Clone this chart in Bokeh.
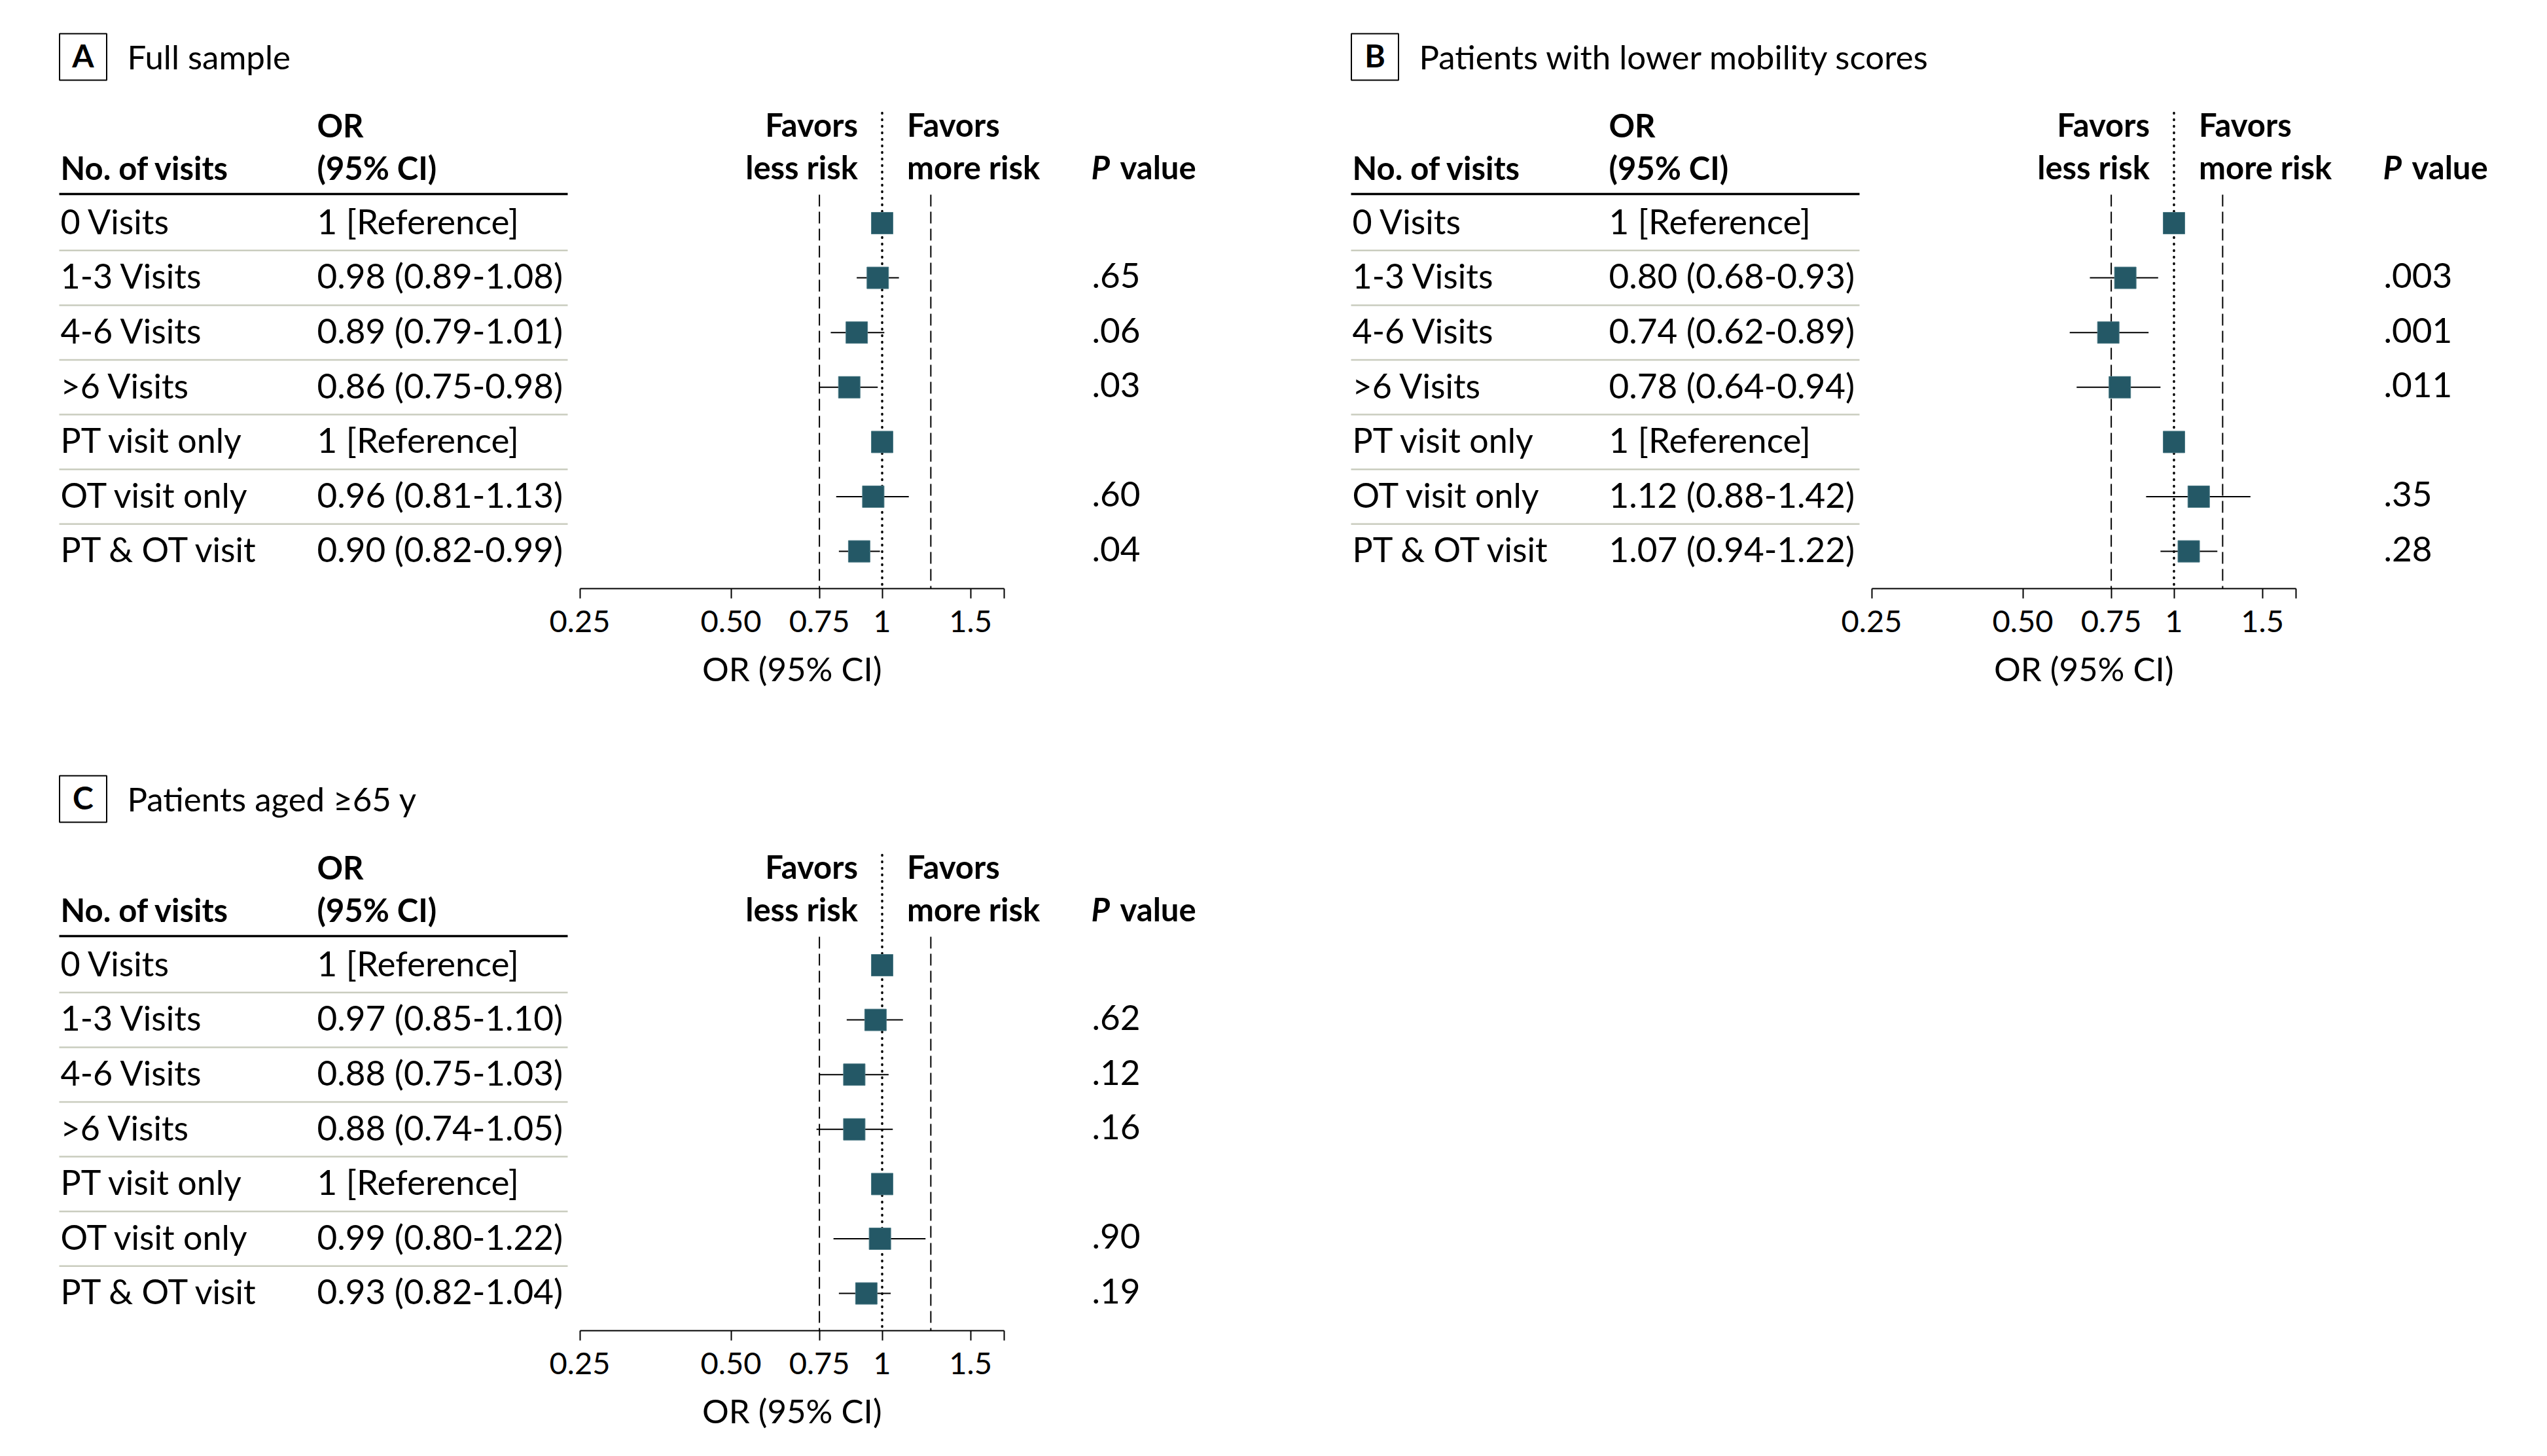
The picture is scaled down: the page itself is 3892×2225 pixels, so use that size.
import math
from bokeh.plotting import figure
from bokeh.models import Range1d, LogScale, LogAxis, FixedTicker
from bokeh.layouts import column, row
from bokeh.embed import file_html
from bokeh.resources import INLINE
from bokeh.core.properties import value

# ---------------- data ----------------
row_labels = ["0 Visits", "1-3 Visits", "4-6 Visits", ">6 Visits",
              "PT visit only", "OT visit only", "PT & OT visit"]

a_or = [1.00, 0.98, 0.89, 0.86, 1.00, 0.96, 0.90]
a_lo = [None, 0.89, 0.79, 0.75, None, 0.81, 0.82]
a_hi = [None, 1.08, 1.01, 0.98, None, 1.13, 0.99]
a_p = ["", ".65", ".06", ".03", "", ".60", ".04"]

b_or = [1.00, 0.80, 0.74, 0.78, 1.00, 1.12, 1.07]
b_lo = [None, 0.68, 0.62, 0.64, None, 0.88, 0.94]
b_hi = [None, 0.93, 0.89, 0.94, None, 1.42, 1.22]
b_p = ["", ".003", ".001", ".011", "", ".35", ".28"]

c_or = [1.00, 0.97, 0.88, 0.88, 1.00, 0.99, 0.93]
c_lo = [None, 0.85, 0.75, 0.74, None, 0.80, 0.82]
c_hi = [None, 1.10, 1.03, 1.05, None, 1.22, 1.04]
c_p = ["", ".62", ".12", ".16", "", ".90", ".19"]

tick_values = [0.25, 0.5, 0.75, 1.0, 1.5, 1.75]
tick_labels = ["0.25", "0.50", "0.75", "1", "1.5", ""]
ref_lines = [0.75, 1.25]
null_value = 1.0

# ---------------- layout constants (pixels) ----------------
FONT = value("Lato")
ROW0 = 340.5      # panel y of first row centre
ROW_H = 83.6      # row pitch
AX0_PX = 885.5    # x pixel of 0.25 on the OR axis
PX_PER_LOG2 = 231.0
TEAL = "#245866"
SEP = "#c9ccbe"
TEXT_SHIFT = 0.4  # baseline correction, fraction of font size


def ry(py):
    return (py - ROW0) / ROW_H


def make_panel(letter, title, ors, los, his, ps, width, height):
    lo_v = tick_values[0] * 2 ** ((0 - AX0_PX) / PX_PER_LOG2)
    hi_v = tick_values[0] * 2 ** ((width - AX0_PX) / PX_PER_LOG2)
    p = figure(width=width, height=height,
               x_range=Range1d(0, width),
               y_range=Range1d(ry(height), ry(0)),
               x_axis_type=None, y_axis_type=None,
               output_backend="svg", toolbar_location=None,
               min_border=0, min_border_left=0, min_border_right=0,
               min_border_top=0, min_border_bottom=0)
    p.extra_x_ranges = {"or": Range1d(lo_v, hi_v)}
    p.extra_x_scales = {"or": LogScale()}
    p.outline_line_color = None
    p.background_fill_color = "white"
    p.border_fill_color = "white"
    p.xgrid.visible = False
    p.ygrid.visible = False

    def txt(x, y, t, size, style="normal", align="left", rng="default", xoff=0):
        dy = TEXT_SHIFT * size / ROW_H
        p.text(x=x, y=[v - dy for v in y], text=t, text_font=FONT,
               text_font_size=f"{size}px",
               text_font_style=style, text_align=align,
               text_baseline="alphabetic", text_color="black",
               x_range_name=rng, x_offset=xoff)

    # panel letter box and title
    p.quad(left=[90.5], right=[162.5], top=[ry(51)], bottom=[ry(122)],
           fill_color=None, line_color="black", line_width=2)
    txt([126.5], [ry(103.5)], [letter], 48, "bold", "center")
    txt([194], [ry(106)], [title], 51)

    # headers
    txt([484], [ry(210)], ["OR"], 49, "bold")
    txt([92], [ry(275)], ["No. of visits"], 49, "bold")
    txt([484], [ry(275)], ["(95% CI)"], 49, "bold")
    txt([null_value, null_value], [ry(209), ry(274)], ["Favors", "less risk"],
        49, "bold", "right", "or", -37)
    txt([null_value, null_value], [ry(209), ry(274)], ["Favors", "more risk"],
        49, "bold", "left", "or", 38)
    txt([1667], [ry(274)], ["P"], 49, "bold italic")
    txt([1711], [ry(274)], ["value"], 49, "bold")

    # table rules
    p.segment(x0=[90], x1=[867], y0=[ry(296)], y1=[ry(296)],
              line_color="black", line_width=3.5)
    n = len(row_labels)
    seps = [i + 0.5 for i in range(n - 1)]
    p.segment(x0=[90] * len(seps), x1=[867] * len(seps), y0=seps, y1=seps,
              line_color=SEP, line_width=2.5)

    rows_y = list(range(n))
    base_y = [r + 17.5 / ROW_H for r in rows_y]
    or_txt = ["1 [Reference]" if lo is None else f"{o:.2f} ({lo:.2f}-{hi:.2f})"
              for o, lo, hi in zip(ors, los, his)]
    txt([92] * n, base_y, row_labels, 52)
    txt([484] * n, base_y, or_txt, 53)
    txt([1668] * n, base_y, ps, 53)

    # reference lines
    p.segment(x0=[null_value], x1=[null_value], y0=[ry(172)], y1=[ry(899)],
              x_range_name="or", line_color="black", line_width=3.5,
              line_dash="1 9", line_cap="round")
    p.segment(x0=ref_lines, x1=ref_lines, y0=[ry(297)] * len(ref_lines),
              y1=[ry(899)] * len(ref_lines), x_range_name="or",
              line_color="black", line_width=2, line_dash="18 8")

    # CIs and points
    ci_idx = [i for i in range(n) if los[i] is not None]
    p.segment(x0=[los[i] for i in ci_idx], x1=[his[i] for i in ci_idx],
              y0=ci_idx, y1=ci_idx, x_range_name="or",
              line_color="black", line_width=2)
    p.scatter(x=ors, y=rows_y, marker="square", size=33, x_range_name="or",
              fill_color=TEAL, line_color="#4d7b86", line_width=1)

    # axis
    ax = LogAxis(x_range_name="or", fixed_location=ry(899),
                 bounds=(tick_values[0], tick_values[-1]),
                 ticker=FixedTicker(ticks=tick_values, minor_ticks=[]),
                 major_label_overrides=dict(zip(tick_values, tick_labels)))
    ax.axis_line_width = 2
    ax.axis_line_color = "black"
    ax.major_tick_line_width = 2
    ax.major_tick_line_color = "black"
    ax.major_tick_in = 0
    ax.major_tick_out = 15
    ax.minor_tick_line_color = None
    ax.major_label_text_font = "Lato"
    ax.major_label_text_font_size = "47px"
    ax.major_label_text_color = "black"
    ax.major_label_standoff = 18
    p.add_layout(ax, "below")
    centre = math.sqrt(tick_values[0] * tick_values[-1])
    txt([centre], [ry(1041)], ["OR (95% CI)"], 51, "normal", "center", "or")
    return p


pA = make_panel("A", "Full sample", a_or, a_lo, a_hi, a_p, 1974, 1134)
pB = make_panel("B", "Patients with lower mobility scores", b_or, b_lo, b_hi, b_p, 1900, 1134)
pC = make_panel("C", "Patients aged \u226565 y", c_or, c_lo, c_hi, c_p, 1974, 1090)

layout = column(row(pA, pB), pC)
open("out.html", "w").write(file_html(layout, INLINE))
